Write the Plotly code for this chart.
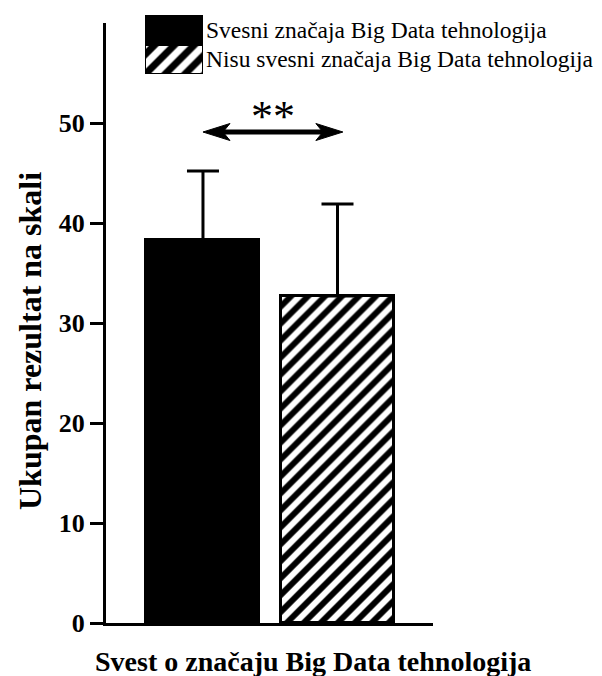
import plotly.graph_objects as go

# Data
groups = ["Svesni značaja Big Data tehnologija", "Nisu svesni značaja Big Data tehnologija"]
means = [38.3, 32.7]
sd_upper = [6.9, 9.2]
y_ticks = [0, 10, 20, 30, 40, 50]
x_title = "Svest o značaju Big Data tehnologija"
y_title = "Ukupan rezultat na skali"
significance = "**"

FONT = "Liberation Serif"
W, H = 602, 676
ML, MR, MT, MB = 106, 169, 10, 53
plot_h = H - MT - MB
plot_w = W - ML - MR
y_top = (H - MB - 23) / plot_h  # top of the value axis inside the plot area

pos = list(range(len(groups)))
bar_w = 0.84
hatch = dict(shape="/", fgcolor="#000000", fgopacity=1, bgcolor="#ffffff", size=12, solidity=0.5)

fig = go.Figure()

# Main bars: solid black and hatched
fig.add_trace(go.Bar(
    x=[pos[0]], y=[means[0]], width=bar_w,
    marker=dict(color="black", line=dict(color="black", width=3)),
    error_y=dict(type="data", symmetric=False, array=[sd_upper[0]], arrayminus=[0],
                 color="black", thickness=3, width=16),
    name=groups[0], xaxis="x", yaxis="y",
))
fig.add_trace(go.Bar(
    x=[pos[1]], y=[means[1]], width=bar_w,
    marker=dict(color="white", line=dict(color="black", width=3), pattern=hatch),
    error_y=dict(type="data", symmetric=False, array=[sd_upper[1]], arrayminus=[0],
                 color="black", thickness=3, width=16),
    name=groups[1], xaxis="x", yaxis="y",
))

# Legend swatches drawn on a small overlay axis
fig.add_trace(go.Bar(
    x=[0.5], y=[1], base=[1], width=1, cliponaxis=False,
    marker=dict(color="black", line=dict(color="black", width=2)),
    xaxis="x2", yaxis="y2", hoverinfo="skip",
))
fig.add_trace(go.Bar(
    x=[0.5], y=[1], base=[0], width=1, cliponaxis=False,
    marker=dict(color="white", line=dict(color="black", width=2), pattern=dict(hatch, size=14)),
    xaxis="x2", yaxis="y2", hoverinfo="skip",
))

leg_x0 = (145 - ML) / plot_w
leg_x1 = (203 - ML) / plot_w
leg_y0 = (H - MB - 74) / plot_h
leg_y1 = (H - MB - 15) / plot_h

annotations = []
for i, g in enumerate(groups):
    annotations.append(dict(
        x=1, y=1.5 - i, xref="x2", yref="y2", text=g, showarrow=False,
        xanchor="left", yanchor="middle", xshift=1,
        font=dict(family=FONT, size=23.5, color="black"),
    ))

# Significance bracket: double-headed arrow between the group centres
arr_y = 49.1
x_l, x_r = pos[0], pos[1] + 0.04
px_per_x = plot_w / (1.71 + 0.721)
px_per_y = (y_top * plot_h) / 60
head_len = 27 / px_per_x
head_half = 8.5 / px_per_y
notch = 7 / px_per_x

shapes = [
    dict(type="line", xref="x", yref="y", x0=x_l + head_len * 0.5, x1=x_r - head_len * 0.5,
         y0=arr_y, y1=arr_y, line=dict(color="black", width=5)),
    dict(type="path", xref="x", yref="y",
         path=(f"M {x_l},{arr_y} L {x_l + head_len},{arr_y + head_half} "
               f"L {x_l + head_len - notch},{arr_y} L {x_l + head_len},{arr_y - head_half} Z"),
         fillcolor="black", line=dict(color="black", width=1)),
    dict(type="path", xref="x", yref="y",
         path=(f"M {x_r},{arr_y} L {x_r - head_len},{arr_y + head_half} "
               f"L {x_r - head_len + notch},{arr_y} L {x_r - head_len},{arr_y - head_half} Z"),
         fillcolor="black", line=dict(color="black", width=1)),
]

annotations.append(dict(
    x=(x_l + x_r) / 2, y=arr_y, xref="x", yref="y", text=significance, showarrow=False,
    yanchor="bottom", yshift=-11, font=dict(family=FONT, size=44, color="black"),
))

# Axis titles
annotations.append(dict(
    x=(30 - ML) / plot_w, y=(H - MB - 341) / plot_h, xref="paper", yref="paper",
    text=y_title, textangle=-90, showarrow=False, xanchor="center", yanchor="middle",
    font=dict(family=FONT, size=32, color="black", weight="bold"),
))
annotations.append(dict(
    x=(313 - ML) / plot_w, y=(H - MB - 661) / plot_h, xref="paper", yref="paper",
    text=x_title, showarrow=False, xanchor="center", yanchor="middle",
    font=dict(family=FONT, size=28, color="black", weight="bold"),
))

fig.update_layout(
    width=W, height=H,
    margin=dict(l=ML, r=MR, t=MT, b=MB),
    paper_bgcolor="white", plot_bgcolor="white",
    showlegend=False, barmode="overlay", bargap=0,
    xaxis=dict(range=[-0.721, 1.71], domain=[0, 1], showline=True, linewidth=3, linecolor="black",
               ticks="", showticklabels=False, showgrid=False, zeroline=False, fixedrange=True),
    yaxis=dict(range=[0, 60], domain=[0, y_top], tickvals=y_ticks, ticks="outside", ticklen=13,
               tickwidth=3, tickcolor="black", showline=True, linewidth=3, linecolor="black",
               showgrid=False, zeroline=False,
               tickfont=dict(family=FONT, size=26, color="black", weight="bold")),
    xaxis2=dict(domain=[leg_x0, leg_x1], range=[0, 1], visible=False, anchor="y2", fixedrange=True),
    yaxis2=dict(domain=[leg_y0, leg_y1], range=[0, 2], visible=False, anchor="x2", fixedrange=True),
    shapes=shapes, annotations=annotations,
)

fig.write_html("out.html")
